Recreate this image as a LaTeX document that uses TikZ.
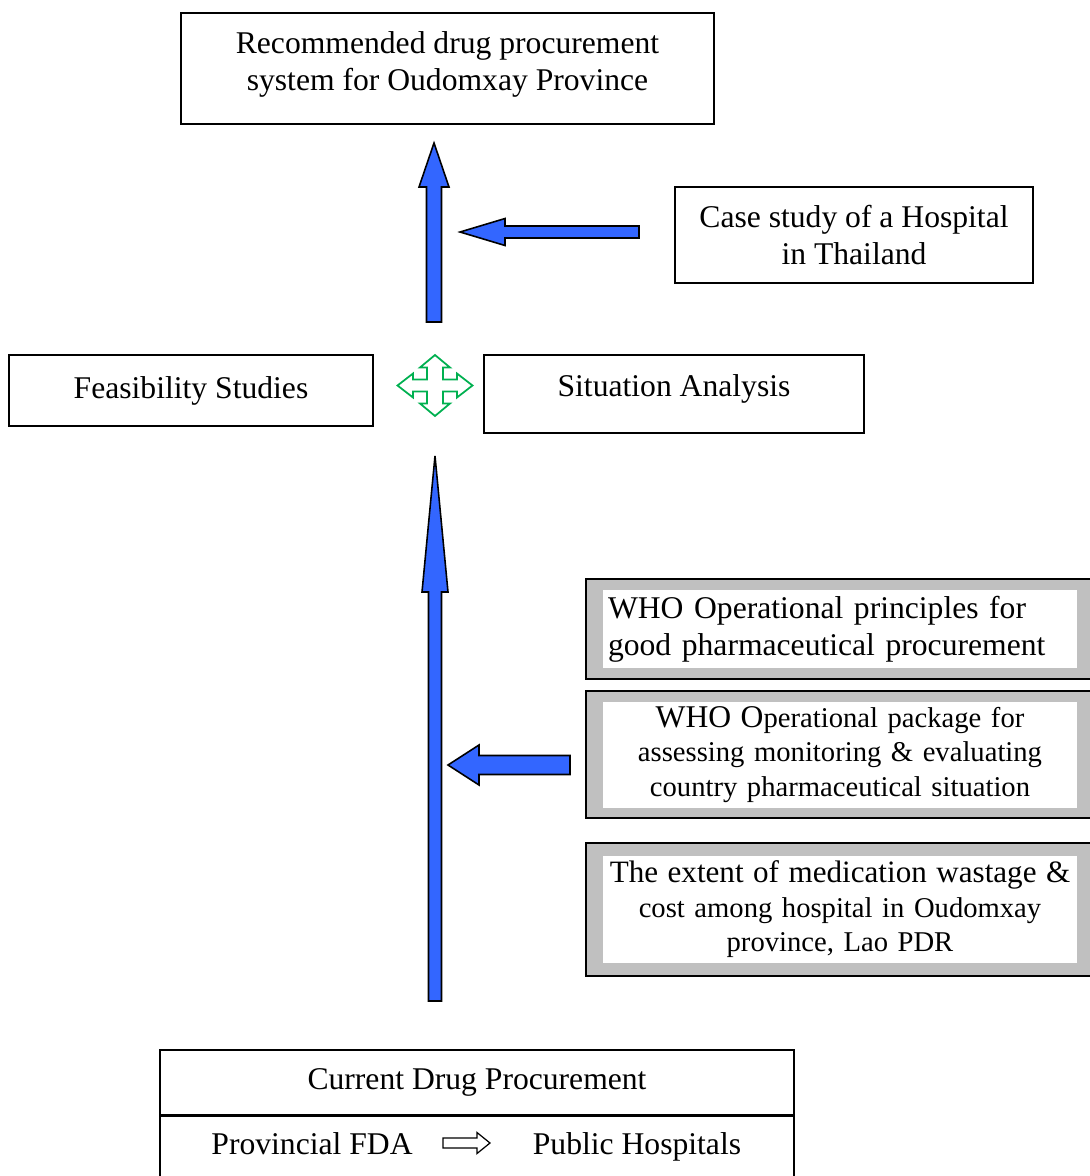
\documentclass[tikz,border=0pt]{standalone}
\usepackage{fontspec}
\setmainfont{Liberation Serif}
\usetikzlibrary{positioning}
\definecolor{arrowblue}{RGB}{51,102,255}
\definecolor{hubgreen}{RGB}{0,176,80}
\definecolor{framegray}{RGB}{192,192,192}
\tikzset{
    box/.style={draw, line width=0.9pt, align=center, inner sep=0pt},
    grayframe/.style={draw, fill=framegray, line width=0.9pt, inner sep=0pt},
    whitepanel/.style={fill=white, inner xsep=0.04cm, inner ysep=0.1cm, text width=9.4cm},
    smalltext/.style={font=\fontsize{16.3}{19.6}\selectfont},
    blockarrow/.style={draw, fill=arrowblue, line width=0.9pt, line join=miter},
    hubarrow/.style={draw=hubgreen, fill=white, line width=1pt, line join=miter},
    flowarrow/.style={draw, fill=white, line width=0.7pt, line join=miter}
}
\begin{document}
\begin{tikzpicture}[x=0.02cm, y=-0.02cm, font=\fontsize{18}{21}\selectfont]
    \useasboundingbox (0,0) rectangle (1089,1176);
    % boxes
    \node[box, minimum width=10.66cm, minimum height=2.22cm, text depth=0.3cm] (goal) at (447.5,68.5)
        {Recommended drug procurement\\system for Oudomxay Province};
    \node[box, minimum width=7.16cm, minimum height=1.92cm] (casestudy) at (854,235)
        {Case study of a Hospital\\in Thailand};
    \node[box, minimum width=7.28cm, minimum height=1.42cm] (feasibility) at (191,390.5)
        {Feasibility Studies};
    \node[box, minimum width=7.6cm, minimum height=1.56cm, text depth=0.32cm] (situation) at (674,394)
        {Situation Analysis};
    % gray framed sources
    \node[grayframe, minimum width=10.16cm, minimum height=2cm] (principles) at (840,629) {};
    \node[whitepanel, align=left, inner xsep=0.1cm, text width=9.28cm, minimum height=1.56cm]
        (principlestext) at (principles)
        {WHO Operational principles for\\good pharmaceutical procurement};
    \node[grayframe, minimum width=10.16cm, minimum height=2.54cm] (package) at (840,754.5) {};
    \node[whitepanel, smalltext, align=center, minimum height=2.12cm] (packagetext) at (package)
        {{\fontsize{18}{19.6}\selectfont WHO O}perational package for\\assessing monitoring \& evaluating\\country pharmaceutical situation};
    \node[grayframe, minimum width=10.16cm, minimum height=2.66cm] (wastage) at (840,909.5) {};
    \node[whitepanel, smalltext, align=center, minimum height=2.08cm] (wastagetext) at (wastage)
        {{\fontsize{17.7}{19.6}\selectfont The extent of medication wastage \&}\\cost among hospital in Oudomxay\\province, Lao PDR};
    % current procurement
    \node[box, minimum width=12.68cm, minimum height=1.29cm] (current) at (477,1082.5)
        {Current Drug Procurement};
    \node[box, minimum width=12.68cm, minimum height=1.3cm, below=0pt of current] (chain) {};
    \node[anchor=base] (fda) at (312,1154) {Provincial FDA};
    \node[anchor=base] (hospitals) at (637,1154) {Public Hospitals};
    % arrows
    \coordinate (tailA) at (434,322);
    \coordinate (tipA) at (434,143);
    \coordinate (tailB) at (639,232);
    \coordinate (tipB) at (460,232);
    \coordinate (tailC) at (435,1001);
    \coordinate (tipC) at (435,456);
    \coordinate (tailD) at (570,765);
    \coordinate (tipD) at (448,765);
    \coordinate (hub) at (435,385.5);
    \coordinate (flowtail) at (443,1143);
    \coordinate (flowtip) at (490,1143);
    \draw[blockarrow] (tailA) ++(-7.5,0) -- ++(0,-135) -- ++(-7.5,0) -- (tipA)
        -- ++(15,44) -- ++(-7.5,0) -- ++(0,135) -- cycle;
    \draw[blockarrow] (tailB) ++(0,-6) -- ++(-134,0) -- ++(0,-7.5) -- (tipB)
        -- ++(45,13.5) -- ++(0,-7.5) -- ++(134,0) -- cycle;
    \draw[blockarrow] (tailC) ++(-6.5,0) -- ++(0,-409) -- ++(-6.5,0) -- (tipC)
        -- ++(13,136) -- ++(-6.5,0) -- ++(0,409) -- cycle;
    \draw[blockarrow] (tailD) ++(0,-9.5) -- ++(-91,0) -- ++(0,-10.5) -- (tipD)
        -- ++(31,20) -- ++(0,-10.5) -- ++(91,0) -- cycle;
    \draw[flowarrow] (flowtail) ++(0,-5) -- ++(34,0) -- ++(0,-5.5) -- (flowtip)
        -- ++(-13,10.5) -- ++(0,-5.5) -- ++(-34,0) -- cycle;
    \begin{scope}[shift={(hub)}]
        \draw[hubarrow] (0,-30.5) -- (15,-18) -- (8,-18) -- (8,-6) -- (22,-6) -- (22,-12)
            -- (37.5,0) -- (22,12) -- (22,6) -- (8,6) -- (8,18) -- (15,18) -- (0,30.5)
            -- (-15,18) -- (-8,18) -- (-8,6) -- (-22,6) -- (-22,12) -- (-37.5,0)
            -- (-22,-12) -- (-22,-6) -- (-8,-6) -- (-8,-18) -- (-15,-18) -- cycle;
    \end{scope}
\end{tikzpicture}
\end{document}
